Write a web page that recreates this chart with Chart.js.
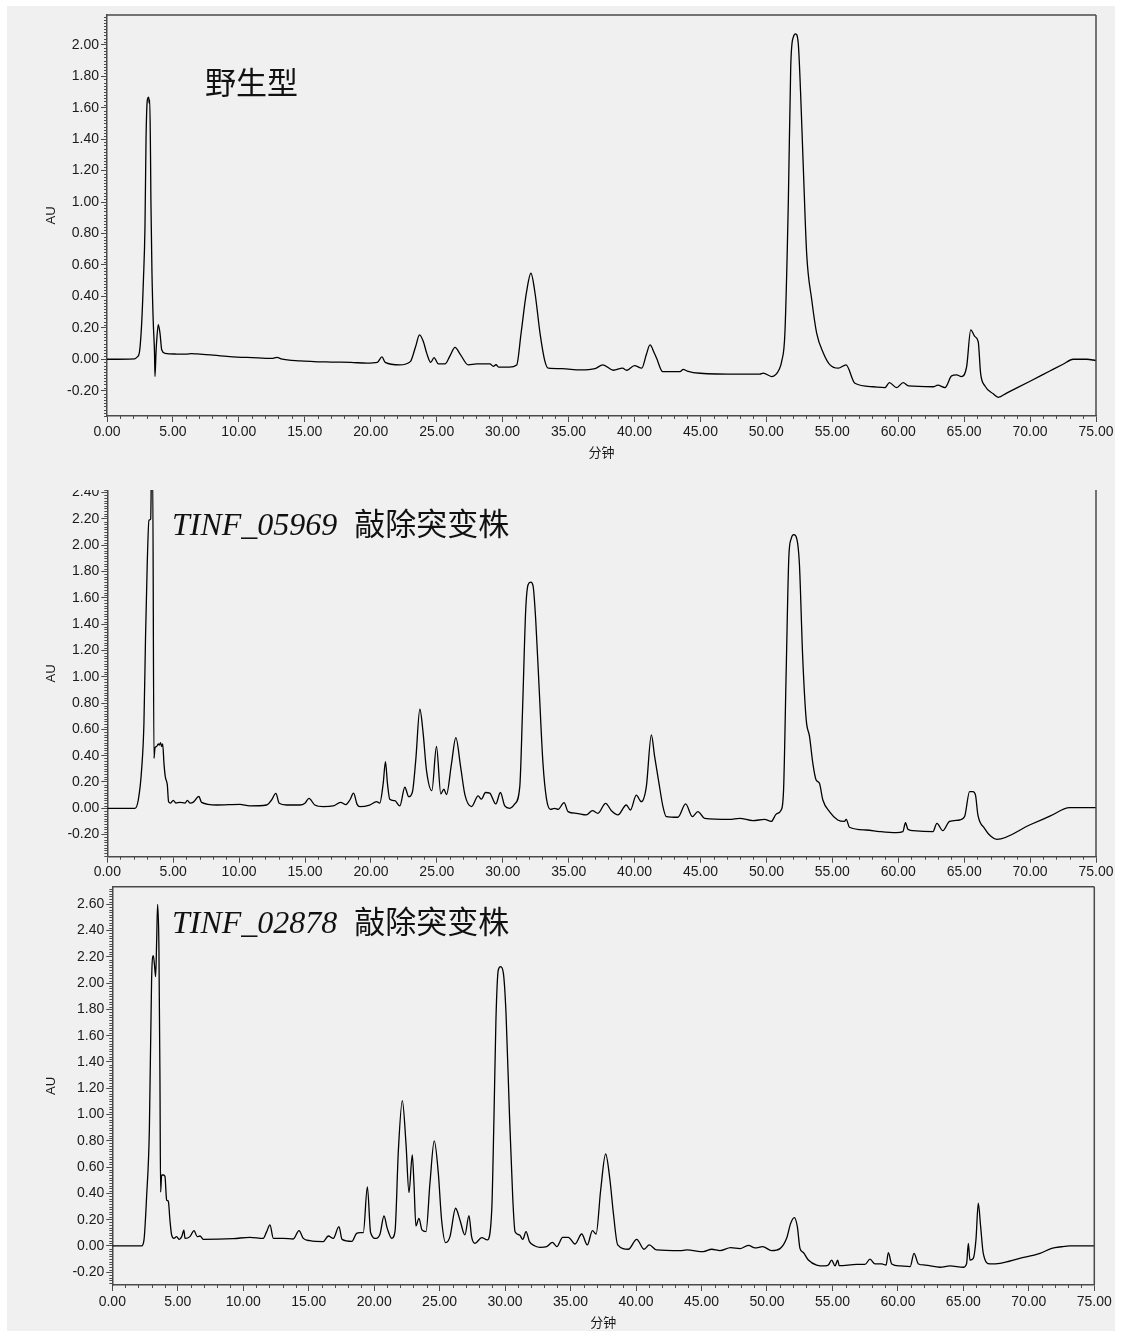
<!DOCTYPE html>
<html>
<head>
<meta charset="utf-8">
<script src="https://cdn.jsdelivr.net/npm/chart.js@4.4.1/dist/chart.umd.min.js"></script>
<style>
  html, body { margin: 0; padding: 0; background: #ffffff; }
  body { width: 1123px; height: 1331px; position: relative; overflow: hidden; }
  #bg { position: absolute; left: 7px; top: 6px; width: 1108px; height: 1325px; background: #f0f0f0; }
  canvas { position: absolute; left: 0; }
  .ttl { position: absolute; white-space: nowrap; color: #111; line-height: 1; }
  .lat { font-family: "Liberation Serif", "Times New Roman", serif; font-style: italic; font-size: 32px; }
  .cjk { font-family: "Noto Sans CJK SC", sans-serif; font-size: 31px; font-weight: 400; }
</style>
</head>
<body>
<div id="bg"></div>
<canvas id="c1" width="1123" height="470" style="top:0px"></canvas>
<canvas id="c2" width="1123" height="392" style="top:490px"></canvas>
<canvas id="c3" width="1123" height="449" style="top:882px"></canvas>
<div class="ttl cjk" style="left:205px; top:65px;">野生型</div>
<div class="ttl" style="left:172px; top:506px;"><span class="lat">TINF_05969</span><span class="cjk" style="margin-left:17px;">敲除突变株</span></div>
<div class="ttl" style="left:172px; top:904px;"><span class="lat">TINF_02878</span><span class="cjk" style="margin-left:17px;">敲除突变株</span></div>
<script>
// ---------- data (retention time in minutes, absorbance in AU) ----------
const wtTime = [0,2.1,2.3,2.45,2.63,2.76,2.88,2.96,3.06,3.16,3.2,3.24,3.3,3.33,3.41,3.51,3.6,3.64,3.72,3.77,3.89,4.02,4.15,4.4,5.3,6.0,6.4,6.8,7.5,9.3,11.0,12.5,12.9,13.2,14.6,17.0,18.5,19.7,20.5,20.85,21.1,22.2,23.0,23.4,23.7,24.0,24.24,24.55,24.8,25.13,25.63,26.0,26.39,26.8,27.4,28.03,29.04,29.3,29.5,29.7,30.5,31.07,31.4,31.8,32.15,32.46,32.84,33.2,33.47,34.5,35.9,37.0,37.6,38.4,39.1,39.4,40.0,40.55,40.9,41.18,41.5,41.68,42.14,43.45,43.7,44.0,44.97,48.0,49.5,49.77,50.4,51.0,51.16,51.41,51.67,51.85,52.05,52.22,52.42,52.6,52.8,53.06,53.44,53.82,54.32,54.83,55.46,56.04,56.72,58.1,59.0,59.33,59.88,60.38,60.77,62.66,63.0,63.55,64.05,64.43,64.8,65.19,65.5,65.82,66.07,66.25,66.58,67.21,67.59,68.22,70.0,71.5,72.5,73.27,74.3,75.0];
const wtAU   = [0,0.003,0.015,0.04,0.23,0.5,0.84,1.4,1.65,1.667,1.63,1.65,1.3,1.01,0.55,0.23,0.05,-0.11,0.05,0.12,0.22,0.165,0.06,0.038,0.033,0.032,0.036,0.034,0.03,0.017,0.01,0.005,0.012,0.003,-0.01,-0.018,-0.02,-0.025,-0.02,0.015,-0.02,-0.036,-0.015,0.08,0.155,0.11,0.04,-0.02,0.01,-0.03,-0.03,0.02,0.076,0.03,-0.036,-0.03,-0.03,-0.045,-0.035,-0.05,-0.05,-0.036,0.165,0.42,0.547,0.42,0.165,-0.01,-0.057,-0.06,-0.068,-0.06,-0.036,-0.07,-0.057,-0.07,-0.04,-0.057,0.03,0.091,0.04,0.006,-0.079,-0.079,-0.064,-0.075,-0.089,-0.095,-0.095,-0.088,-0.11,-0.06,-0.015,0.17,1.01,1.86,2.05,2.07,2.01,1.69,1.23,0.67,0.38,0.165,0.04,-0.036,-0.057,-0.036,-0.153,-0.175,-0.18,-0.149,-0.18,-0.149,-0.17,-0.175,-0.165,-0.18,-0.106,-0.1,-0.11,-0.047,0.187,0.144,0.11,-0.09,-0.17,-0.22,-0.242,-0.215,-0.14,-0.075,-0.032,0.0,0.0,-0.008];

const ko05969Time = [0,2.1,2.35,2.6,2.78,2.9,3.03,3.16,3.29,3.36,3.44,3.54,3.62,3.74,3.87,3.94,4.04,4.12,4.2,4.3,4.4,4.55,4.65,4.8,5.0,5.2,5.5,5.9,6.07,6.27,6.5,6.95,7.15,8.3,10.06,10.8,12.08,12.46,12.79,13.04,13.6,14.6,14.99,15.3,15.74,16.4,17.13,17.7,18.1,18.4,18.68,18.95,19.16,19.9,20.43,20.67,20.93,21.1,21.25,21.43,21.81,22.19,22.57,22.87,23.15,23.4,23.71,23.96,24.21,24.62,24.97,25.3,25.53,25.73,26.11,26.44,26.8,27.13,27.63,28.13,28.38,28.69,29.01,29.47,29.82,30.15,30.53,30.91,31.29,31.5,31.74,31.92,32.12,32.3,32.5,32.75,33.05,33.31,33.61,33.94,34.2,34.65,34.95,35.58,36.34,36.8,37.22,37.8,38.24,38.74,39.37,39.68,40.13,40.51,40.89,41.27,41.52,41.85,42.15,42.4,43.29,43.87,44.38,44.8,45.31,47.21,47.96,48.97,49.86,50.37,50.75,51.12,51.3,51.5,51.7,51.88,52.08,52.3,52.5,52.75,53.02,53.27,53.52,53.77,54.02,54.28,54.78,55.41,55.92,56.05,56.3,57.57,58.58,59.84,60.35,60.55,60.73,61.1,62.63,62.93,63.38,63.89,64.65,65.03,65.41,65.66,65.86,66.04,66.54,67.05,67.47,70.0,71.5,73.0,75.0];
const ko05969AU   = [0,0,0.063,0.29,0.65,1.3,1.86,2.19,2.2,2.6,2.6,0.38,0.46,0.47,0.49,0.48,0.5,0.47,0.49,0.34,0.24,0.18,0.05,0.04,0.06,0.04,0.045,0.04,0.06,0.04,0.045,0.09,0.045,0.025,0.03,0.018,0.025,0.063,0.114,0.038,0.025,0.025,0.038,0.076,0.025,0.013,0.018,0.045,0.028,0.063,0.115,0.03,0.013,0.025,0.05,0.04,0.19,0.355,0.19,0.068,0.058,0.018,0.16,0.088,0.126,0.368,0.753,0.57,0.29,0.134,0.47,0.109,0.145,0.104,0.34,0.537,0.317,0.102,0.013,0.094,0.069,0.12,0.115,0.033,0.12,0.018,0.0,0.033,0.165,0.75,1.51,1.70,1.72,1.69,1.43,0.93,0.34,0.076,-0.008,0.0,-0.008,0.043,-0.025,-0.038,-0.05,-0.018,-0.038,0.038,-0.018,-0.05,0.025,-0.013,0.1,0.05,0.165,0.558,0.393,0.19,0.013,-0.063,-0.068,0.033,-0.063,-0.025,-0.076,-0.084,-0.076,-0.094,-0.084,-0.1,-0.043,-0.013,0.14,1.05,1.91,2.05,2.08,2.05,1.86,1.15,0.67,0.545,0.342,0.215,0.19,0.063,-0.025,-0.089,-0.1,-0.084,-0.144,-0.165,-0.177,-0.185,-0.177,-0.109,-0.16,-0.17,-0.177,-0.114,-0.17,-0.1,-0.089,-0.063,0.127,0.127,0.1,-0.05,-0.152,-0.215,-0.236,-0.125,-0.06,0.005,0.005];

const ko02878Time = [0,2.24,2.42,2.62,2.83,3.0,3.13,3.23,3.31,3.39,3.46,3.56,3.64,3.69,3.77,3.9,4.02,4.15,4.28,4.4,4.53,4.71,4.91,5.12,5.3,5.47,5.55,5.93,6.24,6.49,6.7,6.95,9.24,10.51,11.53,11.79,12.04,12.3,13.06,13.82,14.26,14.59,15.1,16.1,16.5,16.88,17.31,17.55,18.3,18.66,18.92,19.17,19.48,19.73,20.14,20.45,20.75,21.0,21.34,21.59,21.85,22.15,22.43,22.66,22.91,23.04,23.19,23.42,23.65,23.96,24.26,24.59,24.9,25.15,25.46,25.79,26.22,26.55,26.93,27.24,27.44,27.7,28.21,28.64,28.98,29.15,29.3,29.48,29.66,29.87,30.07,30.33,30.58,30.76,31.1,31.35,31.6,31.86,32.28,32.67,33.18,33.61,33.95,34.4,34.83,35.34,35.85,36.28,36.67,36.95,37.3,37.68,38.01,38.27,38.6,39.41,40.05,40.61,41.01,41.57,43.36,43.87,45.14,45.78,46.41,47.23,47.94,48.58,49.09,49.67,50.36,51.0,51.5,51.81,52.09,52.32,52.52,52.78,53.16,53.79,54.43,54.69,54.94,55.2,55.4,55.52,56.85,57.49,57.87,58.25,58.76,59.1,59.27,59.53,60.16,60.94,61.23,61.57,62.07,63.22,63.98,65.0,65.25,65.38,65.5,65.76,65.96,66.14,66.32,66.52,67.03,67.8,69.3,70.85,71.75,72.5,73.14,75.0];
const ko02878AU   = [0,0,0.046,0.375,0.88,2.02,2.21,2.13,2.05,2.33,2.6,2.28,1.26,0.41,0.54,0.54,0.53,0.35,0.34,0.2,0.084,0.058,0.071,0.05,0.071,0.12,0.058,0.071,0.117,0.071,0.076,0.05,0.056,0.066,0.058,0.109,0.16,0.058,0.058,0.053,0.117,0.058,0.04,0.033,0.076,0.058,0.147,0.05,0.035,0.096,0.101,0.101,0.45,0.101,0.058,0.091,0.228,0.134,0.058,0.109,0.73,1.106,0.78,0.406,0.693,0.477,0.152,0.21,0.122,0.109,0.477,0.8,0.553,0.198,0.025,0.071,0.287,0.198,0.084,0.231,0.071,0.02,0.063,0.046,0.274,0.98,1.72,2.1,2.126,2.075,1.77,1.01,0.375,0.109,0.084,0.05,0.109,0.033,0.0,-0.01,-0.005,0.028,-0.005,0.066,0.066,0.015,0.091,0.008,0.117,0.091,0.426,0.7,0.5,0.249,0.008,-0.025,0.05,-0.025,0.008,-0.03,-0.036,-0.03,-0.043,-0.025,-0.036,-0.013,-0.02,0.005,-0.015,-0.005,-0.035,-0.02,0.058,0.172,0.216,0.147,-0.018,-0.05,-0.107,-0.145,-0.152,-0.145,-0.107,-0.152,-0.107,-0.15,-0.14,-0.14,-0.1,-0.137,-0.137,-0.145,-0.05,-0.137,-0.152,-0.157,-0.056,-0.137,-0.145,-0.162,-0.152,-0.162,-0.132,0.02,-0.107,-0.094,0.046,0.325,0.147,-0.056,-0.137,-0.132,-0.095,-0.056,-0.018,-0.006,0.0,0.0];

// ---------- tick values ----------
const xTicks = [0,5,10,15,20,25,30,35,40,45,50,55,60,65,70,75];
const yTicksWT = [-0.2,0,0.2,0.4,0.6,0.8,1.0,1.2,1.4,1.6,1.8,2.0];
const yTicks05969 = [-0.2,0,0.2,0.4,0.6,0.8,1.0,1.2,1.4,1.6,1.8,2.0,2.2,2.4];
const yTicks02878 = [-0.2,0,0.2,0.4,0.6,0.8,1.0,1.2,1.4,1.6,1.8,2.0,2.2,2.4,2.6];

const AXIS = '#4a4a4a';
const LBL = '#1a1a1a';
const SANS = '"Liberation Sans", Arial, sans-serif';

const frameAndMinor = {
  id: 'frameAndMinor',
  afterDraw(chart, args, opts) {
    const ctx = chart.ctx, a = chart.chartArea;
    const xs = chart.scales.x, ys = chart.scales.y;
    ctx.save();
    ctx.strokeStyle = AXIS;
    ctx.lineWidth = 1;
    const y0 = Math.ceil(ys.min / 0.02), y1 = Math.floor(ys.max / 0.02);
    ctx.beginPath();
    for (let k = y0; k <= y1; k++) {
      if (k % 10 === 0) continue;
      const p = Math.round(ys.getPixelForValue(k * 0.02)) + 0.5;
      ctx.moveTo(a.left - 3, p); ctx.lineTo(a.left, p);
    }
    for (let k = Math.ceil(xs.min); k <= Math.floor(xs.max); k++) {
      if (k % 5 === 0) continue;
      const p = Math.round(xs.getPixelForValue(k)) + 0.5;
      ctx.moveTo(p, a.bottom); ctx.lineTo(p, a.bottom + 3);
    }
    ctx.stroke();
    ctx.lineWidth = 1.5;
    ctx.beginPath();
    if (opts.top) { ctx.moveTo(a.left, a.top); ctx.lineTo(a.right, a.top); }
    ctx.moveTo(a.right, a.top); ctx.lineTo(a.right, a.bottom);
    ctx.stroke();
    ctx.restore();
  }
};

function makePanel(id, time, au, yTicks, geo) {
  const c = document.getElementById(id);
  const pts = time.map((t, i) => ({ x: t, y: au[i] }));
  return new Chart(c, {
    type: 'line',
    data: { datasets: [{ data: pts, borderColor: '#000', borderWidth: 1.3, pointRadius: 0, cubicInterpolationMode: 'monotone', fill: false }] },
    plugins: [frameAndMinor],
    options: {
      responsive: false, animation: false, devicePixelRatio: 1,
      layout: { padding: { left: 0, right: 1123 - geo.right, top: geo.areaTop, bottom: 0 } },
      plugins: { legend: { display: false }, tooltip: { enabled: false }, frameAndMinor: { top: geo.frameTop } },
      scales: {
        x: {
          type: 'linear', min: 0, max: 75,
          afterBuildTicks: s => { s.ticks = xTicks.map(v => ({ value: v })); },
          afterFit: s => { s.height = geo.xH; s.paddingLeft = 0; s.paddingRight = 0; },
          ticks: { callback: v => Number(v).toFixed(2), font: { family: SANS, size: 14 }, color: LBL, padding: geo.xPad, maxRotation: 0, autoSkip: false },
          grid: { drawOnChartArea: false, drawTicks: true, tickLength: 6, tickColor: AXIS, tickWidth: 1 },
          border: { display: true, color: AXIS, width: 1.5 },
          title: { display: geo.xTitle, text: '分钟', color: LBL, font: { family: '"Noto Sans CJK SC", sans-serif', size: 13 }, padding: { top: 0, bottom: geo.xTitlePad } }
        },
        y: {
          type: 'linear', min: geo.ymin, max: geo.ymax,
          afterBuildTicks: s => { s.ticks = yTicks.map(v => ({ value: v })); },
          afterFit: s => { s.width = geo.left; s.paddingTop = 0; s.paddingBottom = 0; },
          ticks: { callback: v => Number(v).toFixed(2), font: { family: SANS, size: 14 }, color: LBL, padding: 2, autoSkip: false },
          grid: { drawOnChartArea: false, drawTicks: true, tickLength: 6, tickColor: AXIS, tickWidth: 1 },
          border: { display: true, color: AXIS, width: 1.5 },
          title: { display: true, text: 'AU', color: LBL, font: { family: SANS, size: 13 }, padding: { top: 44, bottom: 0 } }
        }
      }
    }
  });
}

makePanel('c1', wtTime, wtAU, yTicksWT,
  { areaTop: 15, right: 1096, left: 107, xH: 54, xPad: 2, xTitle: true, xTitlePad: 10, ymin: -0.361, ymax: 2.19, frameTop: true });
makePanel('c2', ko05969Time, ko05969AU, yTicks05969,
  { areaTop: 0, right: 1096, left: 107.3, xH: 25.3, xPad: 1, xTitle: false, xTitlePad: 0, ymin: -0.368, ymax: 2.42, frameTop: false });
makePanel('c3', ko02878Time, ko02878AU, yTicks02878,
  { areaTop: 4.7, right: 1094.3, left: 112.3, xH: 46, xPad: 3, xTitle: true, xTitlePad: 1, ymin: -0.297, ymax: 2.734, frameTop: true });
</script>
</body>
</html>
